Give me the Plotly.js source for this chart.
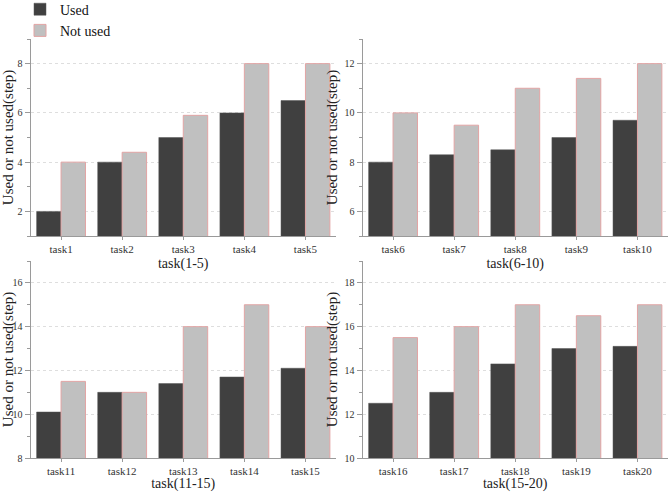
<!DOCTYPE html>
<html>
<head>
<meta charset="utf-8">
<script src="https://cdn.plot.ly/plotly-3.0.1.min.js"></script>
<style>html,body{margin:0;padding:0;background:#fff;}#chart{width:669px;height:492px;}</style>
</head>
<body>
<div id="chart"></div>
<script>
// ---- data ----
const tasks1 = ["task1","task2","task3","task4","task5"];
const tasks2 = ["task6","task7","task8","task9","task10"];
const tasks3 = ["task11","task12","task13","task14","task15"];
const tasks4 = ["task16","task17","task18","task19","task20"];

const used1 = [2, 4, 5, 6, 6.5];
const notUsed1 = [4, 4.4, 5.9, 8, 8];
const used2 = [8, 8.3, 8.5, 9, 9.7];
const notUsed2 = [10, 9.5, 11, 11.4, 12];
const used3 = [10.1, 11, 11.4, 11.7, 12.1];
const notUsed3 = [11.5, 11, 14, 15, 14];
const used4 = [12.5, 13, 14.3, 15, 15.1];
const notUsed4 = [15.5, 16, 17, 16.5, 17];

const xTitles = ["task(1-5)", "task(6-10)", "task(11-15)", "task(15-20)"];
const yTitle = "Used or not used(step)";
const seriesNames = ["Used", "Not used"];

// ---- styling ----
const FONT = "'Liberation Serif', 'Times New Roman', serif";
const usedColor = "#404040";
const notUsedColor = "#c0c0c0";
const notUsedLine = "#e2a4a4";
const axisColor = "#9a9a9a";

const groups = [
  [tasks1, used1, notUsed1],
  [tasks2, used2, notUsed2],
  [tasks3, used3, notUsed3],
  [tasks4, used4, notUsed4]
];

const traces = [];
groups.forEach((g, i) => {
  const sx = i === 0 ? "x" : "x" + (i + 1);
  const sy = i === 0 ? "y" : "y" + (i + 1);
  traces.push({
    type: "bar", name: seriesNames[0], x: g[0], y: g[1], xaxis: sx, yaxis: sy,
    marker: {color: usedColor, line: {color: "#555555", width: 0.5}},
    showlegend: i === 0, legendgroup: "u", hoverinfo: "x+y"
  });
  traces.push({
    type: "bar", name: seriesNames[1], x: g[0], y: g[2], xaxis: sx, yaxis: sy,
    marker: {color: notUsedColor, line: {color: notUsedLine, width: 1}},
    showlegend: i === 0, legendgroup: "n", hoverinfo: "x+y"
  });
});

const W = 669, H = 492;
const px = (a, b) => [a / W, b / W];
const py = (top, bottom) => [1 - bottom / H, 1 - top / H];

const xDomL = px(30.5, 336), xDomR = px(362.5, 668);
const yDomT = py(39, 236), yDomB = py(261, 458);
const yRanges = [[1, 9], [5, 13], [8, 17], [10, 19]];

function xAxis(dom, anchor, title) {
  return {
    domain: dom, anchor: anchor, type: "category",
    showline: true, linecolor: axisColor, linewidth: 1,
    ticks: "outside", ticklen: 3, tickcolor: axisColor,
    tickfont: {family: FONT, size: 11, color: "#333"},
    showgrid: false, zeroline: false,
    title: {text: title, font: {family: FONT, size: 14, color: "#222"}, standoff: 3}
  };
}
function yAxis(dom, anchor, range) {
  return {
    domain: dom, anchor: anchor, range: range, dtick: 2, tick0: 0,
    showline: true, linecolor: axisColor, linewidth: 1,
    ticks: "outside", ticklen: 5, tickcolor: axisColor,
    tickfont: {family: FONT, size: 10, color: "#333"},
    minor: {ticks: "outside", ticklen: 3, dtick: 1, tickcolor: axisColor, showgrid: false},
    showgrid: true, gridcolor: "#dedede", griddash: "dot", gridwidth: 1,
    zeroline: false,
    title: {text: yTitle, font: {family: FONT, size: 15, color: "#222"}, standoff: 3}
  };
}

const layout = {
  width: W, height: H,
  margin: {l: 0, r: 0, t: 0, b: 0, autoexpand: false},
  paper_bgcolor: "#fff", plot_bgcolor: "#fff",
  font: {family: FONT, color: "#222"},
  barmode: "group", bargap: 0.2, bargroupgap: 0,
  showlegend: true,
  legend: {x: 20 / W, y: 1.013, xanchor: "left", yanchor: "top",
           bgcolor: "rgba(0,0,0,0)",
           font: {family: FONT, size: 14, color: "#111"}, tracegroupgap: 0, itemwidth: 30},
  xaxis: xAxis(xDomL, "y", xTitles[0]),
  yaxis: yAxis(yDomT, "x", yRanges[0]),
  xaxis2: xAxis(xDomR, "y2", xTitles[1]),
  yaxis2: yAxis(yDomT, "x2", yRanges[1]),
  xaxis3: xAxis(xDomL, "y3", xTitles[2]),
  yaxis3: yAxis(yDomB, "x3", yRanges[2]),
  xaxis4: xAxis(xDomR, "y4", xTitles[3]),
  yaxis4: yAxis(yDomB, "x4", yRanges[3])
};

Plotly.newPlot("chart", traces, layout, {displayModeBar: false, staticPlot: true});
</script>
</body>
</html>
